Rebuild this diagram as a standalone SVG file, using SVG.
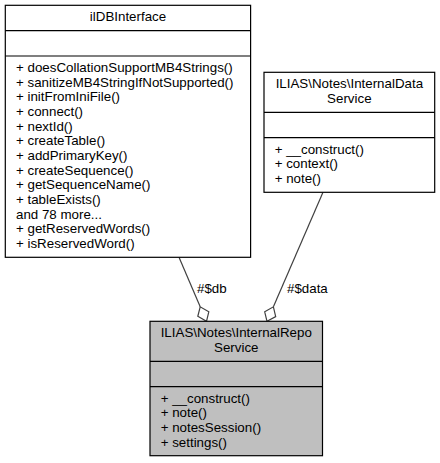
<svg xmlns="http://www.w3.org/2000/svg" width="440" height="463" viewBox="0 0 440 463">
<style>
  text { font-family: "Liberation Sans", Arial, Helvetica, sans-serif; font-size: 13.33px; fill: #000; }
  .c { text-anchor: middle; }
  .box { stroke: #000; stroke-width: 1.2; }
  .sep { stroke: #000; stroke-width: 1.2; fill: none; }
  .edge { stroke: #404040; stroke-width: 1.2; fill: none; }
  .dia { stroke: #404040; stroke-width: 1.2; fill: #fff; }
</style>
<rect x="0" y="0" width="440" height="463" fill="#fff"/>

<g id="connectors">
  <line class="edge" x1="179" y1="257.3" x2="200.2" y2="306.8"/>
  <polygon class="dia" points="206.5,321.3 208.8,311.8 200.2,306.8 197.8,316.3"/>
  <text x="197" y="292.5">#$db</text>
  <line class="edge" x1="323" y1="192.3" x2="273.4" y2="306.8"/>
  <polygon class="dia" points="267,321.3 275.7,316.6 273.4,306.8 264.7,311.8"/>
  <text x="287" y="292.5">#$data</text>
</g>

<g id="ilDBInterface">
  <rect class="box" x="5.3" y="5.3" width="245.3" height="252" fill="#fff"/>
  <text class="c" x="128" y="21.3">ilDBInterface</text>
  <line class="sep" x1="5.3" y1="30.6" x2="250.6" y2="30.6"/>
  <line class="sep" x1="5.3" y1="56" x2="250.6" y2="56"/>
  <text x="16" y="72">+ doesCollationSupportMB4Strings()</text>
  <text x="16" y="86.67">+ sanitizeMB4StringIfNotSupported()</text>
  <text x="16" y="101.33">+ initFromIniFile()</text>
  <text x="16" y="116">+ connect()</text>
  <text x="16" y="130.67">+ nextId()</text>
  <text x="16" y="145.33">+ createTable()</text>
  <text x="16" y="160">+ addPrimaryKey()</text>
  <text x="16" y="174.67">+ createSequence()</text>
  <text x="16" y="189.33">+ getSequenceName()</text>
  <text x="16" y="204">+ tableExists()</text>
  <text x="16" y="218.67">and 78 more...</text>
  <text x="16" y="233.33">+ getReservedWords()</text>
  <text x="16" y="248">+ isReservedWord()</text>
</g>

<g id="InternalDataService">
  <rect class="box" x="264" y="72.3" width="170.7" height="120" fill="#fff"/>
  <text class="c" x="349.35" y="88.3">ILIAS\Notes\InternalData</text>
  <text class="c" x="349.35" y="103">Service</text>
  <line class="sep" x1="264" y1="112.3" x2="434.7" y2="112.3"/>
  <line class="sep" x1="264" y1="137.6" x2="434.7" y2="137.6"/>
  <text x="274.7" y="153.6">+ __construct()</text>
  <text x="274.7" y="168.3">+ context()</text>
  <text x="274.7" y="183">+ note()</text>
</g>

<g id="InternalRepoService">
  <rect class="box" x="150" y="321.3" width="172.5" height="134.4" fill="#bfbfbf"/>
  <text class="c" x="236.25" y="337.3">ILIAS\Notes\InternalRepo</text>
  <text class="c" x="236.25" y="352">Service</text>
  <line class="sep" x1="150" y1="361.3" x2="322.5" y2="361.3"/>
  <line class="sep" x1="150" y1="386.6" x2="322.5" y2="386.6"/>
  <text x="160.7" y="402.6">+ __construct()</text>
  <text x="160.7" y="417.3">+ note()</text>
  <text x="160.7" y="432">+ notesSession()</text>
  <text x="160.7" y="446.6">+ settings()</text>
</g>
</svg>
